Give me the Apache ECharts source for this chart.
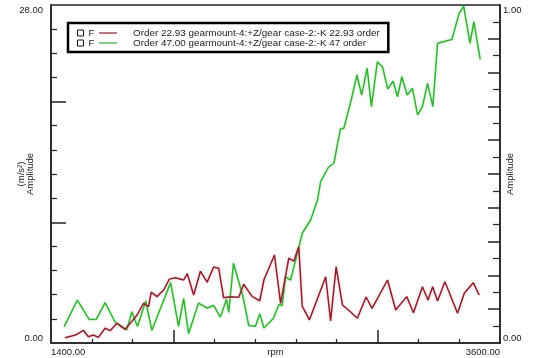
<!DOCTYPE html>
<html>
<head>
<meta charset="utf-8">
<script src="https://cdn.jsdelivr.net/npm/echarts@6/dist/echarts.min.js"></script>
<style>
  html, body { margin: 0; padding: 0; background: #fff; }
  #chart { width: 560px; height: 358px; }
</style>
</head>
<body>
<div id="chart"></div>
<script>
// Order-tracking run-up: two gear-mesh orders against engine speed
const seriesNames = [
  'Order 22.93 gearmount-4:+Z/gear case-2:-K 22.93 order',
  'Order 47.00 gearmount-4:+Z/gear case-2:-K 47 order'
];

// Order 22.93 (m/s²)
const rpmOrder2293 = [1469, 1520, 1559, 1583, 1608, 1632, 1665, 1690, 1723, 1763, 1822, 1853, 1878, 1891, 1919, 1952, 1980, 2009, 2050, 2068, 2099, 2132, 2165, 2197, 2222, 2246, 2279, 2320, 2344, 2386, 2423, 2443, 2495, 2525, 2565, 2590, 2614, 2631, 2666, 2746, 2770, 2797, 2828, 2863, 2901, 2944, 2973, 3049, 3089, 3143, 3176, 3220, 3247, 3270, 3294, 3330, 3392, 3425, 3469, 3498];
const ampOrder2293 = [0.43, 0.66, 1.05, 0.52, 0.66, 0.47, 1.22, 1.02, 1.63, 1.13, 2.32, 3.29, 3.01, 4.21, 3.84, 4.39, 5.29, 5.41, 5.22, 5.74, 3.98, 5.95, 5.04, 6.30, 6.19, 3.74, 3.84, 3.79, 4.87, 3.84, 3.50, 5.22, 7.29, 3.29, 7.02, 6.79, 7.98, 3.06, 1.91, 5.49, 1.82, 6.32, 3.15, 2.65, 2.05, 3.81, 2.87, 5.22, 2.73, 3.84, 2.51, 4.66, 3.56, 4.66, 3.48, 5.08, 2.46, 4.12, 5.00, 3.98];

// Order 47.00 (m/s²)
const rpmOrder47 = [1464, 1529, 1587, 1622, 1665, 1714, 1771, 1796, 1824, 1864, 1894, 1986, 2025, 2050, 2074, 2123, 2165, 2197, 2230, 2260, 2271, 2294, 2340, 2369, 2402, 2423, 2443, 2490, 2516, 2533, 2549, 2574, 2607, 2631, 2672, 2706, 2721, 2760, 2786, 2795, 2818, 2835, 2871, 2899, 2922, 2949, 2970, 2999, 3024, 3050, 3076, 3098, 3119, 3145, 3171, 3196, 3220, 3245, 3271, 3294, 3327, 3364, 3400, 3422, 3453, 3472, 3503];
const ampOrder47 = [1.33, 3.56, 1.95, 1.96, 3.34, 1.74, 1.08, 2.59, 1.37, 3.48, 1.04, 5.01, 1.37, 3.70, 0.77, 3.31, 2.90, 3.11, 2.15, 3.63, 2.53, 6.60, 3.89, 1.45, 1.38, 2.43, 1.24, 2.05, 3.17, 3.11, 5.47, 5.22, 7.43, 9.09, 10.19, 11.85, 13.36, 14.58, 14.89, 14.75, 17.73, 17.79, 20.13, 22.20, 20.54, 22.76, 19.58, 23.30, 22.89, 21.04, 21.70, 20.40, 22.06, 20.54, 21.10, 18.89, 19.58, 21.51, 19.58, 24.83, 24.98, 25.14, 27.31, 27.90, 24.83, 26.62, 23.50];

// Axis labels and tick marks
const rpmLabels = [1400, 3600];
const rpmMinorTicks = [1600, 1800, 2200, 2400, 2600, 2800, 3200, 3400];
const rpmMajorTicks = [2000, 3000];
const leftLabels = [0, 28];
const leftMinorTicks = [2, 4, 6, 8, 12, 14, 16, 18, 22, 24, 26];
const leftMajorTicks = [10, 20];
const rightLabels = [0, 1];
const rightMinorTicks = [0.05, 0.15, 0.25, 0.35, 0.45, 0.55, 0.65, 0.75, 0.85, 0.95];
const rightMajorTicks = [0.1, 0.2, 0.3, 0.4, 0.5, 0.6, 0.7, 0.8, 0.9];

const colors = ['#8c1f2e', '#38b038'];
const FONT = 'Liberation Sans';
const INK = '#1a1a1a';

const zip = (xs, ys) => xs.map((x, i) => [x, ys[i]]);
const fmt2 = v => Number(v).toFixed(2);

const chart = echarts.init(document.getElementById('chart'), null, { renderer: 'canvas' });

const baseLabel = { fontFamily: FONT, fontSize: 9.5, color: INK };

chart.setOption({
  backgroundColor: '#fff',
  animation: false,
  grid: {
    left: 51, right: 60, top: 5, bottom: 15,
    show: true, borderColor: '#222', borderWidth: 1.5, backgroundColor: '#fff',
    outerBoundsMode: 'none'
  },
  legend: [
    {
      // hollow square + "F" markers, the frame of the legend box
      data: seriesNames,
      selectedMode: false,
      orient: 'vertical',
      left: 68, top: 23,
      padding: [5, 294, 4, 9],
      itemGap: 0,
      itemWidth: 6, itemHeight: 6,
      icon: 'rect',
      itemStyle: { color: '#fff', borderColor: '#111', borderWidth: 1 },
      lineStyle: { opacity: 0 },
      formatter: () => 'F',
      textStyle: { fontFamily: FONT, fontSize: 9.5, color: INK, lineHeight: 10 },
      backgroundColor: '#fff',
      borderColor: '#000', borderWidth: 2.5,
      z: 4
    },
    {
      // line samples and order descriptions
      data: seriesNames,
      selectedMode: false,
      orient: 'vertical',
      left: 99, top: 28,
      padding: 0,
      itemGap: 0,
      icon: 'rect',
      itemWidth: 18, itemHeight: 1.2,
      lineStyle: { opacity: 0 },
      textStyle: { fontFamily: FONT, fontSize: 9.9, color: INK, lineHeight: 10, padding: [0, 0, 0, 11] },
      z: 5
    }
  ],
  xAxis: [
    {
      type: 'value', min: 1400, max: 3600,
      name: 'rpm', nameLocation: 'middle', nameGap: 4, nameMoveOverlap: false,
      nameTextStyle: { ...baseLabel, verticalAlign: 'top' },
      axisLine: { show: true, lineStyle: { color: '#222', width: 1.5 } },
      axisTick: { show: true, inside: true, length: 4, customValues: rpmMinorTicks, lineStyle: { color: '#222', width: 1.2 } },
      axisLabel: {
        ...baseLabel, margin: 4, customValues: rpmLabels, formatter: fmt2,
        alignMinLabel: 'left', alignMaxLabel: 'right'
      },
      splitLine: { show: false }
    },
    {
      type: 'value', min: 1400, max: 3600, position: 'bottom',
      axisLine: { show: false },
      axisTick: { show: true, inside: true, length: 13, customValues: rpmMajorTicks, lineStyle: { color: '#222', width: 1.5 } },
      axisLabel: { show: false },
      splitLine: { show: false }
    }
  ],
  yAxis: [
    {
      type: 'value', min: 0, max: 28, position: 'left',
      name: '(m/s²)\nAmplitude', nameLocation: 'middle', nameRotate: 90, nameGap: 16, nameMoveOverlap: false,
      nameTextStyle: { ...baseLabel, lineHeight: 9 },
      axisLine: { show: true, lineStyle: { color: '#222', width: 1.5 } },
      axisTick: { show: true, inside: true, length: 6, customValues: leftMinorTicks, lineStyle: { color: '#222', width: 1.2 } },
      axisLabel: {
        ...baseLabel, margin: 8, customValues: leftLabels, formatter: fmt2,
        verticalAlignMinLabel: 'bottom', verticalAlignMaxLabel: 'top'
      },
      splitLine: { show: false }
    },
    {
      type: 'value', min: 0, max: 1, position: 'right',
      name: 'Amplitude', nameLocation: 'middle', nameRotate: 90, nameGap: 5, nameMoveOverlap: false,
      nameTextStyle: baseLabel,
      axisLine: { show: true, lineStyle: { color: '#222', width: 1.5 } },
      axisTick: { show: true, inside: true, length: 7, customValues: rightMinorTicks, lineStyle: { color: '#222', width: 1.2 } },
      axisLabel: {
        ...baseLabel, margin: 3, customValues: rightLabels, formatter: fmt2,
        verticalAlignMinLabel: 'bottom', verticalAlignMaxLabel: 'top'
      },
      splitLine: { show: false }
    },
    {
      type: 'value', min: 0, max: 28, position: 'left',
      axisLine: { show: false },
      axisTick: { show: true, inside: true, length: 15, customValues: leftMajorTicks, lineStyle: { color: '#222', width: 1.5 } },
      axisLabel: { show: false },
      splitLine: { show: false }
    },
    {
      type: 'value', min: 0, max: 1, position: 'right',
      axisLine: { show: false },
      axisTick: { show: true, inside: true, length: 12, customValues: rightMajorTicks, lineStyle: { color: '#222', width: 1.5 } },
      axisLabel: { show: false },
      splitLine: { show: false }
    }
  ],
  series: [
    {
      name: seriesNames[1], type: 'line', xAxisIndex: 0, yAxisIndex: 0,
      data: zip(rpmOrder47, ampOrder47),
      symbol: 'none', color: colors[1],
      lineStyle: { width: 1.5, color: colors[1], shadowColor: 'rgba(110,230,110,0.55)', shadowBlur: 3 },
      z: 2
    },
    {
      name: seriesNames[0], type: 'line', xAxisIndex: 0, yAxisIndex: 0,
      data: zip(rpmOrder2293, ampOrder2293),
      symbol: 'none', color: colors[0],
      lineStyle: { width: 1.5, color: colors[0], shadowColor: 'rgba(230,110,120,0.45)', shadowBlur: 3 },
      z: 3
    }
  ]
});
</script>
</body>
</html>
